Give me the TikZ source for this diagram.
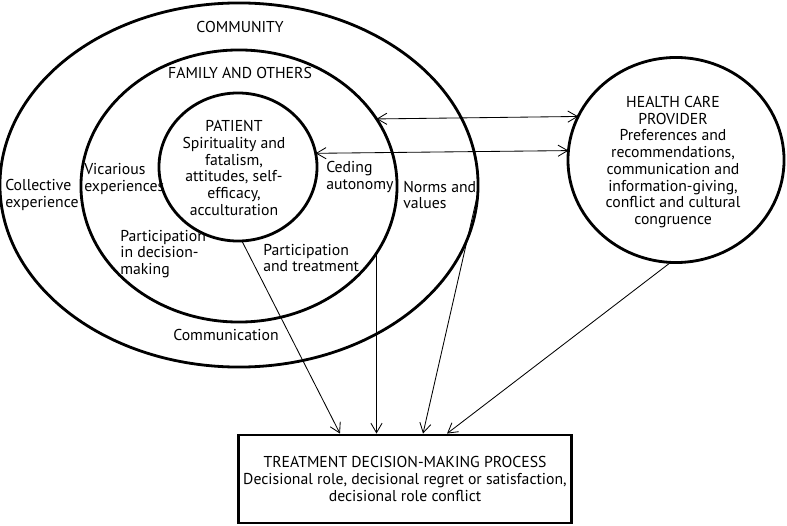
\documentclass[tikz,border=0pt]{standalone}
\usepackage{fontspec}
\setmainfont{PT Sans}
\usetikzlibrary{shapes.geometric,arrows.meta}

\begin{document}
\begin{tikzpicture}[x=0.025cm,y=-0.025cm,
    font=\fontsize{11.2pt}{11.9pt}\selectfont,
    ring/.style={draw,ellipse,line width=2pt,inner sep=0pt,outer sep=0pt},
    lbl/.style={align=left,inner sep=0pt},
    arr/.style={-{Straight Barb[length=2.4mm,width=2.8mm]},line width=0.6pt},
    dbl/.style={{Straight Barb[length=2.4mm,width=2.8mm]}-{Straight Barb[length=2.4mm,width=2.8mm]},line width=0.6pt}]
  \useasboundingbox (0,0) rectangle (787,525);

  % the three rings
  \node[ring,minimum width=11.95cm,minimum height=9.1cm] (community) at (239,185) {};
  \node[ring,minimum width=7.9cm,minimum height=6.8cm] (family) at (239,186) {};
  \node[ring,minimum width=3.95cm,minimum height=3.7cm] (patient) at (238,167) {};
  \node[ring,minimum width=5.4cm,minimum height=5.125cm] (hcp) at (676,160) {};

  \node[draw,line width=2pt,minimum width=8.3cm,minimum height=2.2cm,align=center] (box) at (405,479)
    {TREATMENT DECISION-MAKING PROCESS\\Decisional role, decisional regret or satisfaction,\\decisional role conflict};

  % labels
  \node (commlbl) at (240,27) {COMMUNITY};
  \node (famlbl) at (240,73) {FAMILY AND OTHERS};
  \node[align=center,inner sep=0pt] (patlbl) at (234,168)
    {PATIENT\\Spirituality and\\fatalism,\\attitudes, self-\\efficacy,\\acculturation};
  \node[align=center,inner sep=0pt] (hcplbl) at (673,162)
    {HEALTH CARE\\PROVIDER\\Preferences and\\recommendations,\\communication and\\information-giving,\\conflict and cultural\\congruence};

  \node[lbl,anchor=west] (collective) at (5,195) {Collective\\experience};
  \node[lbl,anchor=west] (vicarious) at (84,179) {Vicarious\\experiences};
  \node[lbl,anchor=west] (ceding) at (326,177) {Ceding\\autonomy};
  \node[lbl,anchor=west] (norms) at (403,195) {Norms and\\values};
  \node[lbl,anchor=west] (partdec) at (120,254) {Participation\\in decision-\\making};
  \node[lbl,anchor=west] (parttr) at (263,258) {Participation\\and treatment};
  \node (communication) at (226,335) {Communication};

  % connectors
  \draw[dbl] (family.26.87) -- (hcp.156.31);
  \draw[dbl] (patient.10.97) -- (hcp.175.75);

  \draw[arr] (patient.-87) -- ([xshift=-1.625cm]box.north);
  \draw[arr] (family.-26.97) -- (family.-26.97 |- box.north);
  \draw[arr] (community.-2) -- ([xshift=0.45cm]box.north);
  \draw[arr] (hcp.-93.3) -- ([xshift=1.05cm]box.north);
\end{tikzpicture}
\end{document}
